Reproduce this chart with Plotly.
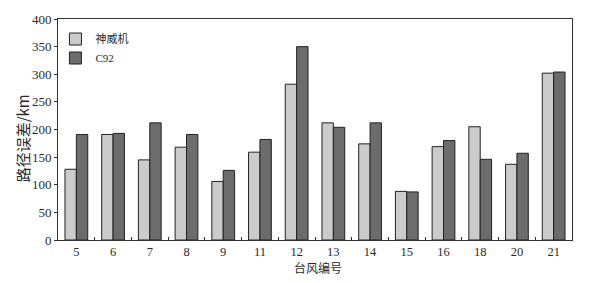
import plotly.graph_objects as go

categories = ["5", "6", "7", "8", "9", "11", "12", "13", "14", "15", "16", "18", "20", "21"]
shenwei = [128, 191, 145, 168, 106, 159, 282, 212, 174, 88, 169, 205, 137, 302]
c92 = [191, 193, 212, 191, 126, 182, 350, 204, 212, 87, 180, 146, 157, 304]
series_names = ["神威机", "C92"]
y_ticks = [0, 50, 100, 150, 200, 250, 300, 350, 400]

font_num = "Liberation Serif, Noto Sans CJK SC, serif"
font_cjk = "Noto Sans CJK SC"

fig = go.Figure()
fig.add_trace(go.Bar(x=categories, y=shenwei, name=series_names[0],
                     marker=dict(color="#cbcbcb", line=dict(color="#222222", width=1))))
fig.add_trace(go.Bar(x=categories, y=c92, name=series_names[1],
                     marker=dict(color="#6c6c6c", line=dict(color="#222222", width=1))))

fig.update_layout(
    width=600, height=283,
    margin=dict(l=58, r=28, t=14, b=43),
    paper_bgcolor="white", plot_bgcolor="white",
    barmode="group", bargap=0.38, bargroupgap=0,
    font=dict(family=font_num, size=13, color="#2a2a2a"),
    showlegend=True,
    legend=dict(x=-0.005, y=0.975, xanchor="left", yanchor="top",
                bgcolor="rgba(0,0,0,0)", font=dict(size=11, family=font_num),
                tracegroupgap=0, itemwidth=30),
    annotations=[
        dict(text="路径误差/km", xref="paper", yref="paper", x=0, y=0.46,
             xshift=-36, textangle=-90, showarrow=False, xanchor="center", yanchor="middle",
             font=dict(size=15, family=font_cjk, color="#2a2a2a")),
        dict(text="台风编号", xref="paper", yref="paper", x=0.506, y=0,
             yshift=-27, showarrow=False, xanchor="center", yanchor="middle",
             font=dict(size=12, family=font_cjk, color="#2a2a2a")),
    ],
)
fig.update_xaxes(
    type="category", showline=True, linecolor="#333333", linewidth=1, mirror=True,
    ticks="inside", tickson="boundaries", ticklen=3, tickcolor="#333333",
    tickfont=dict(size=12.5, family=font_num),
)
fig.update_yaxes(
    range=[0, 400], tickvals=y_ticks, showline=True, linecolor="#333333", linewidth=1, mirror=True,
    ticks="outside", ticklen=3, tickcolor="#333333", showgrid=False, zeroline=False,
    tickfont=dict(size=13, family=font_num),
)
fig.write_html("out.html", config={"displayModeBar": False},
               post_script="document.body.style.margin='0';document.body.style.padding='0';"
                           "document.documentElement.style.overflow='hidden';")
